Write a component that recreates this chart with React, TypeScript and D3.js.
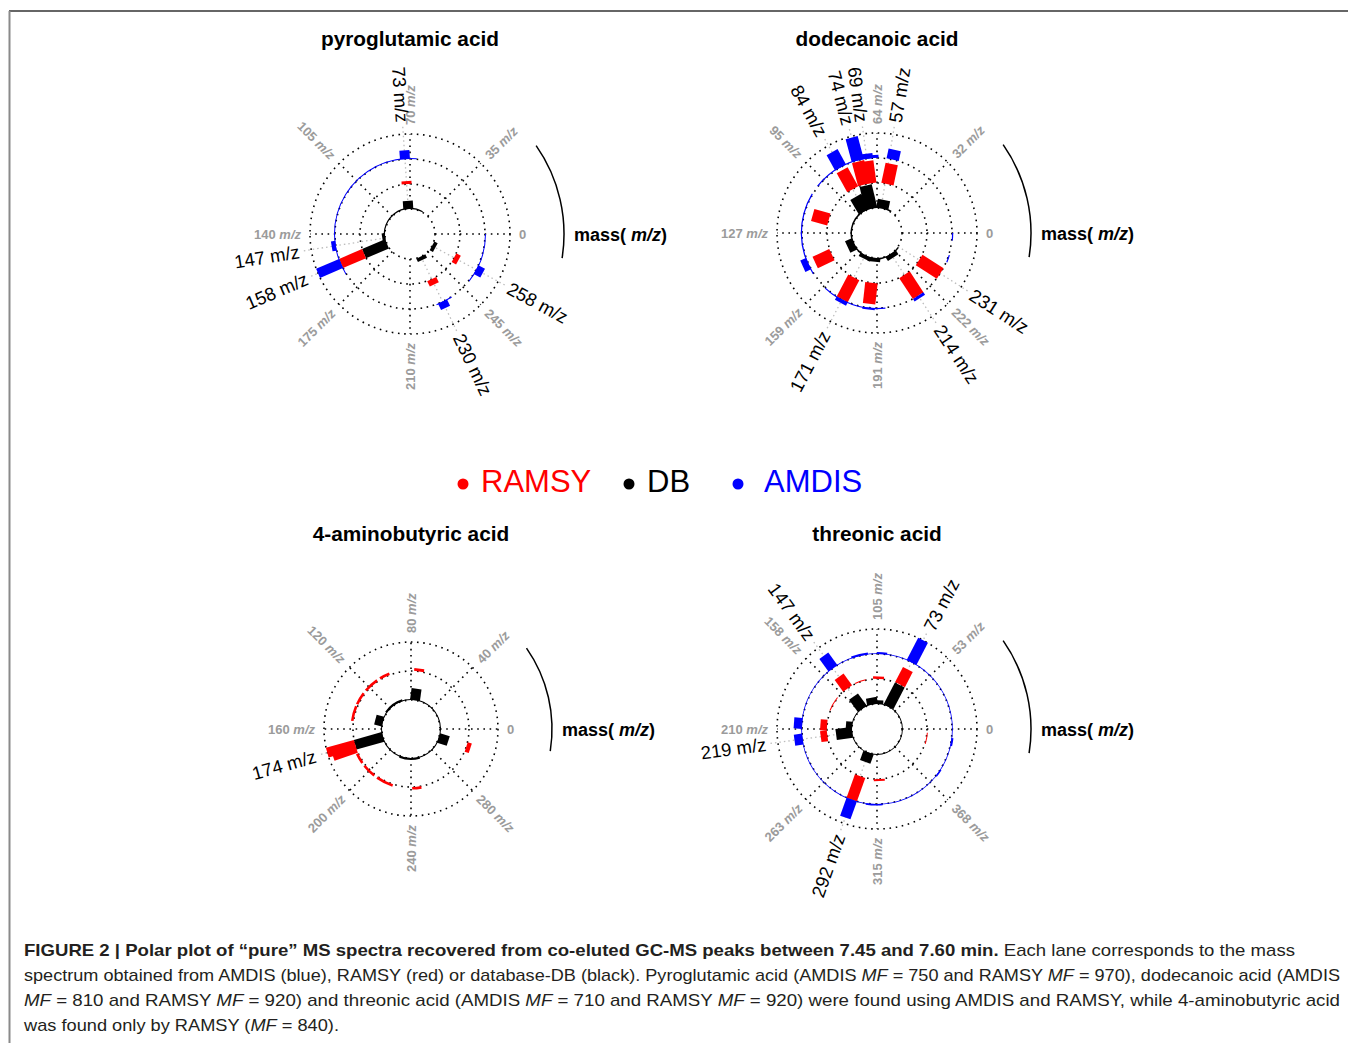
import React, { useEffect, useRef } from "react";
import * as d3 from "d3";

const W = 1348;
const H = 1043;
const FONT = "'Liberation Sans', Arial, Helvetica, sans-serif";
const RED = "#ff0000";
const BLUE = "#0000ff";
const BLACK = "#000000";
const GREY = "#9b9b9b";

// ---- pyroglutamic acid ----
const pyroMax = 280;
const pyroTicks = [0, 35, 70, 105, 140, 175, 210, 245];
const pyroLabels = [73, 147, 158, 258, 230];
const pyroDB = [[73, 0.33], [147, 0.12], [158, 1.0], [230, 0.15], [258, 0.15]];
const pyroRamsy = [[73, 0.12], [158, 1.0], [230, 0.24], [258, 0.2]];
const pyroAmdis = [[73, 0.35], [147, 0.17], [158, 1.0], [230, 0.28], [258, 0.3]];
const pyroDBTrace = [[47, 150, 0.05]];
const pyroRamsyTrace: number[][] = [];
const pyroAmdisTrace = [[66, 165, 0.04], [226, 236, 0.04], [250, 280, 0.04]];

// ---- dodecanoic acid ----
const dodecMax = 254;
const dodecTicks = [0, 32, 64, 95, 127, 159, 191, 222];
const dodecLabels = [57, 69, 74, 84, 171, 214, 231];
const dodecDB = [[55, 0.35], [73, 0.95], [85, 0.68], [145, 0.3], [172, 0.15], [186, 0.15], [214, 0.18]];
const dodecRamsy = [[55, 0.82], [69, 0.9], [74, 0.95], [84, 0.87], [116, 0.67], [145, 0.74], [171, 1.0], [186, 0.85], [214, 1.0], [231, 1.0]];
const dodecAmdis = [[55, 0.4], [66, 0.12], [69, 0.2], [74, 0.95], [84, 0.7], [144, 0.25], [171, 0.15], [186, 0.08], [214, 0.12]];
const dodecDBTrace = [[40, 230, 0.06]];
const dodecRamsyTrace: number[][] = [];
const dodecAmdisTrace = [[66, 100, 0.05], [105, 150, 0.05], [160, 195, 0.05], [238, 242, 0.05], [250, 254, 0.05]];

// ---- 4-aminobutyric acid ----
const gabaMax = 320;
const gabaTicks = [0, 40, 80, 120, 160, 200, 240, 280];
const gabaLabels = [174];
const gabaDB = [[73, 0.4], [147, 0.27], [174, 1.0], [304, 0.35]];
const gabaRamsy = [[73, 0.1], [174, 1.0], [177, 0.85], [304, 0.15]];
const gabaDBTrace = [[0, 320, 0.035], [95, 130, 0.07], [220, 255, 0.07]];
const gabaRamsyTrace = [[99, 108, 0.09], [111, 124, 0.09], [127, 138, 0.09], [140, 153, 0.09], [182, 191, 0.09], [194, 206, 0.09], [209, 224, 0.09], [241, 249, 0.09]];

// ---- threonic acid ----
const threoMax = 420;
const threoTicks = [0, 53, 105, 158, 210, 263, 315, 368];
const threoLabels = [73, 147, 219, 292];
const threoDB = [[73, 0.98], [103, 0.15], [117, 0.27], [147, 0.6], [205, 0.25], [219, 0.65], [292, 0.4]];
const threoRamsy = [[73, 0.68], [103, 0.1], [147, 0.58], [205, 0.27], [219, 0.27], [292, 1.0], [318, 0.08]];
const threoAmdis = [[73, 1.0], [147, 0.62], [205, 0.33], [219, 0.33], [292, 0.76]];
const threoDBTrace = [[0, 420, 0.035]];
const threoRamsyTrace = [[120, 135, 0.04], [165, 185, 0.04], [400, 415, 0.04]];
const threoAmdisTrace = [[0, 420, 0.025], [96, 105, 0.08], [113, 128, 0.08], [305, 320, 0.06], [375, 382, 0.06], [405, 412, 0.08]];

const legendNames = ["RAMSY", "DB", "AMDIS"];
const legendColors = [RED, BLACK, BLUE];

const panels = [
  { title: "pyroglutamic acid", cx: 410, cy: 234, hole: 25, track: 25, barW: 10, max: pyroMax, ticks: pyroTicks, labels: pyroLabels,
    tracks: [{ color: BLACK, peaks: pyroDB, trace: pyroDBTrace }, { color: RED, peaks: pyroRamsy, trace: pyroRamsyTrace }, { color: BLUE, peaks: pyroAmdis, trace: pyroAmdisTrace }] },
  { title: "dodecanoic acid", cx: 877, cy: 233, hole: 25, track: 25, barW: 12.5, max: dodecMax, ticks: dodecTicks, labels: dodecLabels,
    tracks: [{ color: BLACK, peaks: dodecDB, trace: dodecDBTrace }, { color: RED, peaks: dodecRamsy, trace: dodecRamsyTrace }, { color: BLUE, peaks: dodecAmdis, trace: dodecAmdisTrace }] },
  { title: "4-aminobutyric acid", cx: 411, cy: 729, hole: 29, track: 29, barW: 10, max: gabaMax, ticks: gabaTicks, labels: gabaLabels,
    tracks: [{ color: BLACK, peaks: gabaDB, trace: gabaDBTrace }, { color: RED, peaks: gabaRamsy, trace: gabaRamsyTrace }] },
  { title: "threonic acid", cx: 877, cy: 729, hole: 25, track: 25, barW: 11, max: threoMax, ticks: threoTicks, labels: threoLabels,
    tracks: [{ color: BLACK, peaks: threoDB, trace: threoDBTrace }, { color: RED, peaks: threoRamsy, trace: threoRamsyTrace }, { color: BLUE, peaks: threoAmdis, trace: threoAmdisTrace }] },
];

const captionLines = [
  [["FIGURE 2 | Polar plot of \u201Cpure\u201D MS spectra recovered from co-eluted GC-MS peaks between 7.45 and 7.60 min.", "b"], [" Each lane corresponds to the mass", "n"]],
  [["spectrum obtained from AMDIS (blue), RAMSY (red) or database-DB (black). Pyroglutamic acid (AMDIS ", "n"], ["MF", "i"], [" = 750 and RAMSY ", "n"], ["MF", "i"], [" = 970), dodecanoic acid (AMDIS", "n"]],
  [["MF", "i"], [" = 810 and RAMSY ", "n"], ["MF", "i"], [" = 920) and threonic acid (AMDIS ", "n"], ["MF", "i"], [" = 710 and RAMSY ", "n"], ["MF", "i"], [" = 920) were found using AMDIS and RAMSY, while 4-aminobutyric acid", "n"]],
  [["was found only by RAMSY (", "n"], ["MF", "i"], [" = 840).", "n"]],
];
const captionWidths = [1271, 1316, 1316, 315];

function drawPanel(root: any, p: any) {
  const g = root.append("g").attr("transform", `translate(${p.cx},${p.cy})`);
  const ang = d3.scaleLinear().domain([0, p.max]).range([0, 2 * Math.PI]);
  const R = p.hole + p.tracks.length * p.track;
  const pt = (mz: number, r: number) => [r * Math.cos(ang(mz)), -r * Math.sin(ang(mz))];

  // dotted rings
  const rings = d3.range(0, p.tracks.length + 1).map(i => p.hole + i * p.track);
  g.selectAll("circle.ring").data(rings).join("circle")
    .attr("class", "ring").attr("r", d => d).attr("fill", "none")
    .attr("stroke", "#000").attr("stroke-width", 1.6).attr("stroke-dasharray", "1.6 4.6");

  // dotted spokes
  const tickMz = p.ticks.map((t: number, i: number) => (i * p.max) / p.ticks.length);
  g.selectAll("line.spoke").data(tickMz).join("line")
    .attr("class", "spoke")
    .attr("x1", d => pt(d, p.hole)[0]).attr("y1", d => pt(d, p.hole)[1])
    .attr("x2", d => pt(d, R)[0]).attr("y2", d => pt(d, R)[1])
    .attr("stroke", "#000").attr("stroke-width", 1.6).attr("stroke-dasharray", "1.6 4.6");

  // grey guides to labelled peaks
  g.selectAll("line.guide").data(p.labels).join("line")
    .attr("class", "guide")
    .attr("x1", d => pt(d, p.hole)[0]).attr("y1", d => pt(d, p.hole)[1])
    .attr("x2", d => pt(d, R + 8)[0]).attr("y2", d => pt(d, R + 8)[1])
    .attr("stroke", "#bdbdbd").attr("stroke-width", 1.3).attr("stroke-dasharray", "1.5 3");

  // tracks
  p.tracks.forEach((tr: any, k: number) => {
    const base = p.hole + k * p.track;
    const rad = d3.scaleLinear().domain([0, 1]).range([base, base + p.track]);
    const arc = d3.arc()
      .innerRadius(base)
      .outerRadius((d: any) => Math.max(rad(d[2]), base + 0.8))
      .startAngle((d: any) => Math.PI / 2 - ang(d[1]))
      .endAngle((d: any) => Math.PI / 2 - ang(d[0]));
    g.append("g").selectAll("path").data(tr.trace).join("path")
      .attr("d", arc as any).attr("fill", tr.color);
    g.append("g").selectAll("line").data(tr.peaks).join("line")
      .attr("x1", (d: any) => pt(d[0], base)[0]).attr("y1", (d: any) => pt(d[0], base)[1])
      .attr("x2", (d: any) => pt(d[0], rad(d[1]))[0]).attr("y2", (d: any) => pt(d[0], rad(d[1]))[1])
      .attr("stroke", tr.color).attr("stroke-width", p.barW).attr("stroke-linecap", "butt");
  });

  const place = (sel: any, mz: number, r: number) => {
    let deg = (ang(mz) * 180) / Math.PI;
    deg = ((deg % 360) + 360) % 360;
    const left = deg > 90.01 && deg <= 270.01;
    const [x, y] = pt(mz, r);
    sel.attr("transform", `translate(${x},${y}) rotate(${left ? 180 - deg : -deg})`)
      .attr("text-anchor", left ? "end" : "start").attr("dy", "0.36em");
  };

  // grey tick labels
  p.ticks.forEach((t: number, i: number) => {
    const txt = g.append("text").attr("font-family", FONT).attr("font-size", 13)
      .attr("font-weight", "bold").attr("fill", GREY);
    place(txt, tickMz[i], R + 9);
    if (t === 0) txt.text("0");
    else {
      txt.append("tspan").text(`${t} `);
      txt.append("tspan").attr("font-style", "italic").text("m/z");
    }
  });

  // peak labels
  p.labels.forEach((mz: number) => {
    const txt = g.append("text").attr("font-family", FONT).attr("font-size", 18.5).attr("fill", "#000")
      .text(`${mz} m/z`);
    place(txt, mz, R + 12);
  });

  // mass arc
  const arcR = R + 54;
  const path = d3.path();
  const a0 = (-35 * Math.PI) / 180;
  const a1 = (9 * Math.PI) / 180;
  path.moveTo(arcR * Math.cos(a0), arcR * Math.sin(a0));
  path.arc(0, 0, arcR, a0, a1);
  g.append("path").attr("d", path.toString()).attr("fill", "none").attr("stroke", "#000").attr("stroke-width", 1.5);
  const mt = g.append("text").attr("x", arcR + 10).attr("y", 7).attr("font-family", FONT)
    .attr("font-size", 18).attr("font-weight", "bold");
  mt.append("tspan").text("mass( ");
  mt.append("tspan").attr("font-style", "italic").text("m/z");
  mt.append("tspan").text(")");
}

export default function App() {
  const ref = useRef<SVGGElement>(null);

  useEffect(() => {
    const root = d3.select(ref.current);
    root.selectAll("*").remove();
    panels.forEach(p => drawPanel(root, p));
  }, []);

  const legendX = [463, 629, 738];
  const legendTextX = [481, 647, 764];

  return (
    <svg width={W} height={H} style={{ position: "absolute", left: 0, top: 0, background: "#fff" }} fontFamily={FONT}>
      <rect x={0} y={0} width={W} height={H} fill="#fff" />
      <line x1={9} y1={11} x2={W} y2={11} stroke="#333" strokeWidth={1.5} />
      <line x1={9.5} y1={11} x2={9.5} y2={H} stroke="#8a8a8a" strokeWidth={2} />
      {panels.map(p => (
        <text key={p.title} x={p.cx} y={p.cy > 500 ? 541 : 46} textAnchor="middle" fontSize={20.8} fontWeight="bold">
          {p.title}
        </text>
      ))}
      <g ref={ref} />
      {legendNames.map((n, i) => (
        <g key={n}>
          <circle cx={legendX[i]} cy={484} r={5.5} fill={legendColors[i]} />
          <text x={legendTextX[i]} y={492} fontSize={31} fill={legendColors[i]}>{n}</text>
        </g>
      ))}
      {captionLines.map((line, i) => (
        <text key={i} x={24} y={956 + i * 25} fontSize={17} fill="#231f20"
          textLength={captionWidths[i]} lengthAdjust="spacingAndGlyphs">
          {line.map((s, j) => (
            <tspan key={j} fontWeight={s[1] === "b" ? "bold" : "normal"} fontStyle={s[1] === "i" ? "italic" : "normal"}>{s[0]}</tspan>
          ))}
        </text>
      ))}
    </svg>
  );
}
